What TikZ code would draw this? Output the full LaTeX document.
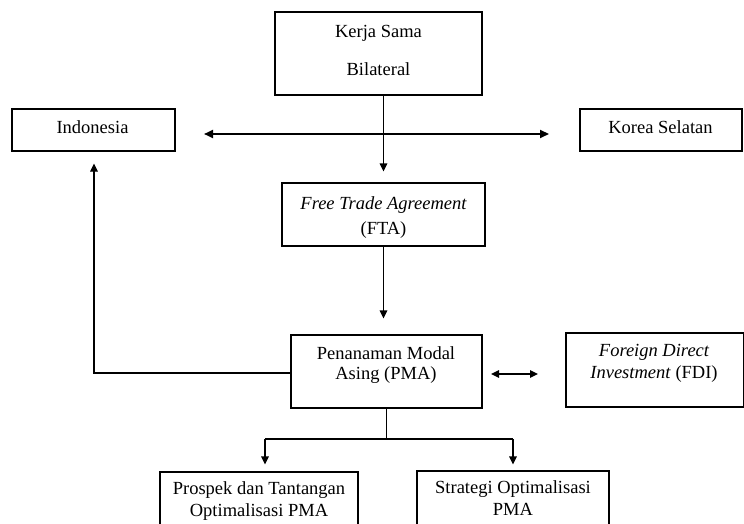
\documentclass[tikz,border=0pt]{standalone}
\usepackage{fontspec}
\setmainfont{Liberation Serif}
\usetikzlibrary{arrows.meta}
\begin{document}
\begin{tikzpicture}[x=1pt,y=-1pt,
  box/.style={draw,line width=1.1pt,rectangle,inner sep=0},
  txt/.style={inner sep=0,text height=12.5pt,text depth=0pt,font=\fontsize{18.5}{20}\selectfont},
  arr/.style={line width=1.1pt,-{Triangle[length=8pt,width=7.5pt]}},
  dbl/.style={line width=2.2pt,{Triangle[length=9pt,width=8pt]}-{Triangle[length=9pt,width=8pt]}},
  dblthin/.style={line width=1.4pt,{Triangle[length=8pt,width=7.5pt]}-{Triangle[length=8pt,width=7.5pt]}},
  ln/.style={line width=1.1pt}]
\useasboundingbox (0,0) rectangle (744,524);
\fill[white] (0,0) rectangle (744,524);
% boxes
\node[box,minimum width=207pt,minimum height=83pt] (kerja) at (378.5,53.5) {};
\node[box,minimum width=163pt,minimum height=42pt] (indo) at (93.5,130) {};
\node[box,minimum width=162pt,minimum height=42pt] (korea) at (661,130) {};
\node[box,minimum width=203pt,minimum height=63pt] (fta) at (383.5,214.5) {};
\node[box,minimum width=191pt,minimum height=73pt] (pma) at (386.5,371.5) {};
\node[box,minimum width=178pt,minimum height=74pt] (fdi) at (655,370) {};
\node[box,minimum width=198pt,minimum height=70pt] (prospek) at (259,507) {};
\node[box,minimum width=192pt,minimum height=70pt] (strategi) at (513,506) {};
% texts
\node[txt] (t1) at (378.5,31) {Kerja Sama};
\node[txt] (t2) at (378.5,69) {Bilateral};
\node[txt] (t3) at (92.5,127) {Indonesia};
\node[txt] (t4) at (660.5,127) {Korea Selatan};
\node[txt] (t5) at (383.5,203) {\itshape Free Trade Agreement};
\node[txt] (t6) at (383.5,228) {(FTA)};
\node[txt] (t7) at (386,353) {Penanaman Modal};
\node[txt] (t8) at (386,373) {Asing (PMA)};
\node[txt] (t9) at (654,350) {\itshape Foreign Direct};
\node[txt] (t10) at (654,372) {\textit{Investment} (FDI)};
\node[txt] (t11) at (259,488) {Prospek dan Tantangan};
\node[txt] (t12) at (259,510) {Optimalisasi PMA};
\node[txt] (t13) at (513,487) {Strategi Optimalisasi};
\node[txt] (t14) at (513,509) {PMA};
% coordinates
\coordinate (hl) at (204,134);
\coordinate (hr) at (549,134);
\coordinate (dl) at (491,374);
\coordinate (dr) at (538,374);
\coordinate (split) at (386.5,439);
\coordinate (bl) at (265,439);
\coordinate (br) at (513,439);
\coordinate (pl) at (94,373);
% connectors
\draw[dbl] (hl) -- (hr);
\draw[arr,shorten >=11pt] (kerja.south -| fta.north) -- (fta.north);
\draw[arr,shorten >=16pt] (fta.south) -- (fta.south |- pma.north);
\draw[arr,shorten >=12pt] (pma.west |- pl) -- (pl) -- (pl |- indo.south);
\draw[dblthin] (dl) -- (dr);
\draw[ln] (pma.south) -- (split);
\draw[ln] (bl) -- (br);
\draw[arr,shorten >=7pt] (bl) -- (bl |- prospek.north);
\draw[arr,shorten >=6pt] (br) -- (br |- strategi.north);
\end{tikzpicture}
\end{document}
